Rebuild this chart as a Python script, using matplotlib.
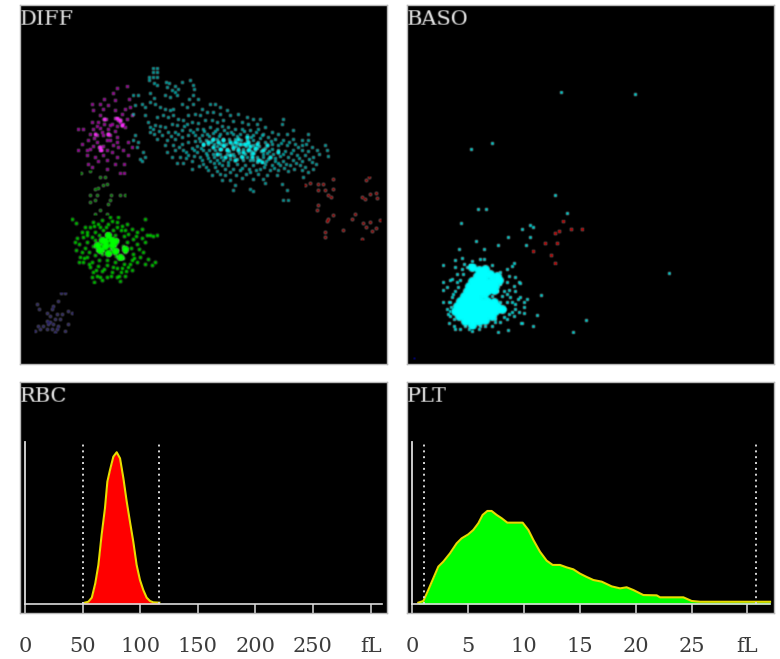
import matplotlib
matplotlib.use("Agg")
import matplotlib.pyplot as plt
import numpy as np

# scatter channels
diff_cyan = [
    (460,205),(472,205),(460,215),(472,215),(448,230),(460,232),(472,232),(448,240),(462,250),(470,255),
    (497,245),(508,250),(525,258),(545,245),(570,240),(580,255),(582,268),(500,262),(515,270),(525,275),
    (535,268),(495,285),(510,290),(530,285),(580,285),(568,295),(595,295),(450,280),(462,292),(450,305),
    (465,310),(400,285),(415,285),(405,315),(425,310),(435,320),(435,345),(400,340),(480,320),(495,325),
    (510,330),(520,325),(545,310),(560,320),(578,310),(605,325),(630,312),(645,312),(660,320),(680,330),
    (445,365),(470,350),(490,345),(505,350),(520,345),(535,355),(550,360),(565,345),(585,340),(600,345),
    (620,335),(640,335),(660,340),(690,345),(715,340),(740,350),(760,355),(780,355),(850,355),(845,370),
    (450,380),(465,375),(480,378),(495,380),(515,370),(530,375),(560,372),(575,365),(595,368),(615,360),
    (635,358),(650,365),(670,360),(700,362),(725,365),(745,372),(770,370),(795,380),(815,395),(880,388),
    (450,395),(462,400),(485,405),(505,395),(525,395),(545,390),(570,388),(590,385),(610,385),(630,380),
    (650,385),(665,378),(685,380),(705,385),(725,385),(750,388),(775,385),(790,400),(835,400),(860,400),
    (925,400),(405,405),(400,420),(415,425),(470,415),(500,420),(525,415),(545,410),(565,405),(585,405),
    (605,405),(620,400),(640,398),(660,400),(680,398),(700,402),(720,400),(740,403),(760,405),(780,412),
    (805,410),(825,415),(850,418),(880,415),(905,418),(925,420),(410,440),(495,435),(520,435),(545,430),
    (565,425),(585,422),(600,422),(618,418),(635,418),(650,415),(668,415),(688,415),(705,415),(722,418),
    (740,420),(758,420),(775,425),(795,425),(815,430),(835,435),(860,435),(885,432),(905,435),(935,440),
    (975,435),(430,455),(500,455),(525,450),(550,448),(575,442),(590,438),(608,435),(625,432),(642,432),
    (660,430),(678,430),(695,430),(712,428),(728,430),(745,432),(760,435),(778,438),(795,442),(815,445),
    (835,450),(855,452),(880,450),(905,450),(925,452),(950,450),(980,450),(420,475),(435,470),(515,470),
    (540,470),(565,465),(590,455),(610,450),(628,448),(645,448),(662,445),(680,445),(698,445),(715,442),
    (730,445),(748,445),(765,450),(782,452),(800,458),(820,462),(840,468),(865,470),(890,465),(915,465),
    (940,470),(985,468),(425,482),(530,487),(550,487),(575,482),(600,470),(620,465),(640,462),(660,460),
    (680,462),(698,460),(718,458),(735,460),(752,462),(770,470),(788,470),(805,475),(825,482),(850,482),
    (880,480),(905,482),(935,485),(575,505),(610,490),(630,482),(650,478),(670,478),(690,475),(710,475),
    (728,478),(750,480),(770,485),(795,490),(815,495),(840,495),(870,495),(900,495),(940,505),(625,510),
    (645,500),(665,495),(685,495),(710,492),(735,495),(760,495),(780,505),(810,510),(835,510),(865,512),
    (905,510),(925,515),(635,525),(660,520),(690,515),(720,510),(750,515),(775,520),(800,525),(830,525),
    (910,530),(665,540),(690,538),(725,532),(760,535),(795,548),(705,555),(700,570),(750,565),(760,572),
    (845,552),(860,568),(850,598),(865,598),
    (458,387),(476,392),(512,407),(533,402),(553,378),(578,396),(597,413),(613,392),(627,407),(644,391),
    (657,408),(672,389),(694,394),(712,407),(733,393),(752,411),(769,396),(786,405),(813,421),(842,428),
    (868,426),(893,441),(918,430),(958,462),(537,441),(557,456),(582,449),(602,443),(617,457),(634,425),
    (651,438),(671,437),(687,453),(707,437),(737,437),(753,452),(771,443),(788,462),(807,451),(826,472),
    (849,461),(873,458),(898,473),(926,476),(947,492),(557,474),(583,466),(606,479),(624,473),(643,470),
    (664,469),(683,484),(703,468),(722,466),(741,471),(760,478),(779,478),(797,483),(833,488),(858,490),
    (888,488),(914,500),(597,498),(618,500),(652,511),(674,506),(698,505),(726,502),(748,505),(768,509),
    (793,500),(821,503),(852,503),(883,507),(641,488),(657,488),(676,525),(708,525),(738,522),(788,535),
]
diff_cyan_core = [
    (640,415),(655,425),(625,425),(670,435),(690,425),(705,425),(720,430),(735,432),(750,438),(765,442),
    (745,450),(760,458),(775,478),(785,485),(700,440),(715,450),(680,450),(690,465),(730,455),(755,470),
    (660,445),(640,440),(715,415),(745,425),(770,430),(670,418),(610,430),(790,450),(810,470),(725,470),
    (705,480),(675,470),(650,460),(800,435),(835,455),(740,410),
]
diff_magenta = [
    (350,265),(380,258),(340,278),(313,295),(275,310),(300,312),(325,315),(345,300),(388,295),(375,325),
    (390,320),(280,330),(310,325),(345,330),(365,340),(395,345),(300,345),(318,355),(345,352),(355,358),
    (380,355),(275,365),(295,365),(335,370),(365,375),(235,385),(250,385),(280,385),(300,382),(325,385),
    (345,392),(375,380),(270,400),(290,405),(310,405),(330,405),(350,410),(245,430),(265,420),(290,425),
    (320,420),(350,425),(385,425),(235,450),(270,445),(298,440),(300,450),(320,450),(335,455),(370,450),
    (395,440),(260,465),(285,470),(310,465),(350,470),(385,465),(265,490),(295,482),(320,480),(345,490),
    (372,490),(275,500),(320,505),(360,517),(372,517),(330,420),(305,395),(325,400),(360,365),(370,370),
    (290,378),(312,372),(283,412),(340,435),(278,438),(262,448),(308,436),(355,440),(330,375),(352,378),
]
diff_magenta_core = [(300,440),(302,450),(350,353),(360,358),(365,375),(325,400),(312,355),(285,400)]
diff_green_dim = [
    (243,518),(270,512),(300,530),(315,530),(295,562),(310,555),(320,550),(285,565),(290,585),(270,585),
    (332,585),(360,583),(375,583),(285,600),(270,605),(330,600),(325,610),(300,630),(285,640),(320,640),
]
diff_green = [
    (215,655),(228,668),(435,655),(355,650),(330,650),(305,660),(280,665),(350,665),(380,672),(255,680),
    (270,680),(300,680),(325,670),(395,685),(425,685),(245,695),(260,695),(285,695),(310,690),(340,688),
    (362,690),(385,700),(410,695),(450,705),(470,703),(232,712),(250,710),(275,710),(298,705),(322,702),
    (345,705),(372,708),(400,715),(425,712),(238,730),(262,725),(285,720),(308,718),(330,715),(352,720),
    (380,725),(410,730),(435,725),(255,742),(280,738),(302,735),(322,730),(345,735),(368,738),(392,742),
    (460,708),(228,748),(268,755),(290,750),(310,748),(332,745),(352,750),(375,755),(400,760),(430,755),
    (240,770),(262,770),(285,765),(305,762),(328,760),(348,768),(370,772),(395,778),(445,775),(465,785),
    (250,785),(275,785),(298,780),(320,778),(345,785),(372,790),(410,785),(435,790),(270,800),(295,797),
    (320,795),(350,802),(385,800),(455,795),(278,815),(305,812),(335,815),(362,815),(395,810),(290,825),
    (320,828),(350,830),(375,825),(282,845),(360,842),(300,830),(293,672),(318,680),(337,662),(367,678),
    (262,705),(407,708),(418,745),(247,755),(252,772),(403,772),(267,792),(287,808),(312,805),(340,800),
    (366,803),(378,812),(358,825),(332,825),(305,838),(275,830),(420,770),(390,790),(238,785),(225,725),
    (440,705),(375,690),(352,680),(283,678),
]
diff_green_core = [
    (305,720),(325,705),(345,722),(315,738),(335,735),(300,750),(325,758),(345,752),(315,722),(335,718),
    (290,735),(360,770),(375,745),
]
diff_red = [
    (1000,535),(1108,530),(1098,540),(915,555),(930,548),(955,552),(970,552),(955,568),(975,568),(1000,565),
    (985,585),(992,590),(1085,590),(1095,595),(1110,580),(1128,578),(1132,592),(955,615),(950,628),(998,645),
    (1065,640),(985,655),(1055,655),(1140,660),(980,662),(1090,668),(1110,665),(1030,688),(1098,680),(1128,682),
    (1115,692),(975,695),(975,710),(1085,715),
]
diff_blue = [
    (182,878),(195,878),(175,900),(112,910),(118,925),(158,915),(140,938),(155,925),(205,932),(215,938),
    (150,945),(170,940),(185,940),(140,960),(165,955),(180,955),(205,970),(115,975),(130,975),(145,970),
    (158,970),(175,975),(120,985),(140,985),(155,985),(170,985),(105,990),(165,995),(195,992),(150,965),
]

baso_cyan = [
    (483,276),(703,283),(275,427),(213,445),(464,584),(232,626),(257,626),(501,638),(183,668),(366,686),
    (390,674),(397,680),(324,711),(390,711),(226,722),(293,734),(378,734),(177,746),(250,746),(342,788),
    (128,795),(806,818),(421,884),(409,944),(556,957),(397,975),(519,993),(362,968),(323,987),(293,993),
    (128,903),(128,843),(128,868),(165,778),(185,772),(240,775),(250,775),(190,790),(210,795),(165,800),
    (275,795),(320,805),(335,798),(185,805),(155,835),(170,820),(300,815),(325,825),(345,830),(355,845),
    (148,838),(140,858),(170,845),(320,845),(340,855),(360,848),(165,870),(300,850),(325,868),(345,870),
    (290,870),(275,885),(305,885),(330,890),(360,890),(380,895),(150,905),(320,905),(345,910),(370,905),
    (140,925),(150,945),(142,940),(345,925),(370,920),(355,935),(372,938),(146,968),(160,975),(178,985),
    (195,975),(215,990),(235,985),(255,975),(275,975),(300,965),(320,955),(340,945),(365,968),(165,985),
    (335,935),(315,925),(300,905),(295,930),(285,955),(160,955),(155,890),(145,905),(215,782),(200,800),
    (188,820),(178,838),(172,858),(158,880),(152,918),(148,930),(320,880),(310,870),(335,905),(352,895),
    (325,940),(310,950),(240,975),(205,985),(285,965),
]
baso_core = [
    (215,800),(235,810),(255,805),(230,825),(250,825),(270,820),(290,825),(215,840),(235,840),(255,840),
    (275,840),(295,838),(205,855),(225,855),(245,855),(265,855),(285,855),(200,870),(220,870),(240,870),
    (260,870),(280,868),(190,885),(210,885),(230,885),(250,880),(180,900),(200,900),(220,900),(240,900),(260,900),
    (280,905),(170,915),(190,915),(210,915),(230,915),(250,915),(270,918),(290,915),(165,930),(185,930),
    (205,930),(225,930),(245,930),(265,932),(285,930),(305,925),(175,945),(195,945),(215,945),(235,945),(255,945),
    (275,945),(195,960),(215,960),(235,960),(255,958),(215,972),
]
baso_red = [
    (489,662),(477,692),(464,698),(513,686),(544,686),(434,728),(471,728),(397,752),(452,764),(464,788),
]
baso_blue = [(42,1071)]

# histograms, fL against relative count
rbc_fl = [52,55,58,61,63.7,66.5,69.4,71.5,73.8,76.7,79.6,82.5,85.4,88.3,91.1,94,96.9,99.8,102.7,105.6,108.5,111.4,116.6]
rbc_count = [0.9,1.5,4.2,13.6,25.7,45.4,62.9,80.5,88.2,96.9,99.8,95.8,82.7,67.3,54.2,41,25.7,15.8,9.2,4.2,2,1.1,0.9]
plt_fl = [0.54,0.99,1.43,1.88,2.33,2.78,3.37,3.97,4.42,5.01,5.46,5.91,6.3,6.72,7.1,7.55,8,8.51,9.19,9.88,10.39,10.84,
          11.43,12.03,12.57,13.22,13.82,14.42,15.01,15.61,16.21,16.96,17.85,18.6,19.19,19.79,20.69,21.88,22.18,24.27,25.01,25.76,32.03]
plt_count = [0.9,2,9.2,16.9,24.6,27.9,33.3,39.9,43.2,45.8,48.7,53.1,58.6,61.2,61.2,58.6,56.4,53.5,53.5,53.5,48.7,42.1,
             34.4,28.5,25.7,25.7,24.1,22.8,20,17.8,15.8,14.7,11.6,10.3,11,9.2,5.9,5.7,4.4,4.4,2,1.5,1.5]
rbc_ticks = [0, 50, 100, 150, 200, 250, 300]
rbc_labels = ["0", "50", "100", "150", "200", "250", "fL"]
plt_ticks = [0, 5, 10, 15, 20, 25, 30]
plt_labels = ["0", "5", "10", "15", "20", "25", "fL"]

W, H = 780, 659
FONT = "DejaVu Serif"
BORDER = "#b8b8b8"


def blur(image, dpi):
    # the reference is an upscaled screenshot, so soften the marks a little
    kernel = np.array([0.15, 0.7, 0.15])
    out = image.copy()
    for axis in (0, 1):
        out = np.apply_along_axis(lambda m: np.convolve(m, kernel, mode="same"), axis, out)
    return out, 0, 0


def make_axes(fig, left, top, right, bottom):
    ax = fig.add_axes([left / W, 1 - bottom / H, (right - left) / W, (bottom - top) / H])
    ax.set_facecolor("black")
    for s in ax.spines.values():
        s.set_color(BORDER)
        s.set_linewidth(1.0)
    return ax


def scatter_panel(ax, name, groups, x_lim):
    ax.set_xlim(*x_lim)
    ax.set_ylim(1090, 15)
    ax.set_xticks([])
    ax.set_yticks([])
    for pts, color, alpha, size in groups:
        xs = [p[0] for p in pts]
        ys = [p[1] for p in pts]
        sc = ax.scatter(xs, ys, s=size, c=color, alpha=alpha, linewidths=0, marker="o")
        sc.set_agg_filter(blur)
    t = ax.text(0.0, 1 - 14 / 359, name, transform=ax.transAxes, color="#f0f0f0", fontsize=15,
                family=FONT, ha="left", va="center")
    t.set_agg_filter(blur)


def hist_panel(ax, name, fl, count, fill, lo, hi, ticks, labels, x0, scale, axis_end):
    # x0 and scale tie fL units to the panel width
    left, right = ax.get_position().x0 * W, ax.get_position().x1 * W
    ax.set_xlim((left - x0) / scale, (right - x0) / scale)
    ax.set_ylim(-5.9, 146)
    ax.fill_between(fl, 0, count, color=fill, linewidth=0)
    ax.plot(fl, count, color="#e8dc00", linewidth=1.5)
    ax.plot([lo, lo], [0, 106], color="#d8d8d8", linewidth=1.4, linestyle=(0, (1, 2)))
    ax.plot([hi, hi], [0, 106], color="#d8d8d8", linewidth=1.4, linestyle=(0, (1, 2)))
    ax.plot([0, axis_end], [0, 0], color="#dcdcdc", linewidth=1.2)
    ax.plot([0, 0], [0, 106.6], color="#dcdcdc", linewidth=1.3)
    ax.set_yticks([])
    ax.set_xticks(ticks)
    ax.set_xticklabels(labels, family=FONT, fontsize=15, color="#3c3c3c")
    ax.tick_params(axis="x", direction="in", length=6.5, width=1.1, color="#dcdcdc", pad=17)
    t = ax.text(0.0, 1 - 15 / 231, name, transform=ax.transAxes, color="#f0f0f0", fontsize=15,
                family=FONT, ha="left", va="center")
    t.set_agg_filter(blur)


fig = plt.figure(figsize=(W / 100, H / 100), dpi=100, facecolor="white")

ax_diff = make_axes(fig, 20, 5, 387, 364)
scatter_panel(ax_diff, "DIFF", [
    (diff_blue, "#4a3fb0", 0.7, 4.5),
    (diff_red, "#a80000", 1.0, 4.5),
    (diff_magenta, "#c800c8", 0.85, 5),
    (diff_magenta_core, "#ff30ff", 1.0, 8),
    (diff_green_dim, "#00a800", 0.9, 4.5),
    (diff_green, "#00e800", 0.85, 6),
    (diff_green_core, "#00ff00", 1.0, 26),
    (diff_cyan, "#00d0d0", 0.8, 5),
    (diff_cyan_core, "#00ffff", 0.95, 9),
], (60, 1161))

ax_baso = make_axes(fig, 407, 5, 774, 364)
scatter_panel(ax_baso, "BASO", [
    (baso_blue, "#0000c0", 0.8, 4),
    (baso_red, "#d80000", 1.0, 5),
    (baso_cyan, "#00e8e8", 0.95, 5),
    (baso_core, "#00ffff", 1.0, 40),
], (20, 1121))

ax_rbc = make_axes(fig, 20, 382, 387, 613)
hist_panel(ax_rbc, "RBC", rbc_fl, rbc_count, "#ff0000", 50, 116.6, rbc_ticks, rbc_labels, 25, 1.152, 310)

ax_plt = make_axes(fig, 407, 382, 774, 613)
hist_panel(ax_plt, "PLT", plt_fl, plt_count, "#00ff00", 1.04, 30.8, plt_ticks, plt_labels, 412.3, 11.17, 32.03)

fig.savefig("out.png", dpi=100, facecolor="white")
